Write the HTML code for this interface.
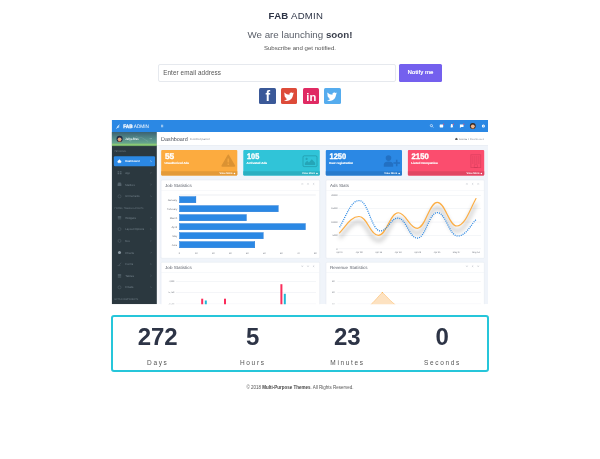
<!DOCTYPE html>
<html lang="en">
<head>
<meta charset="utf-8">
<title>Fab Admin - Coming Soon</title>
<style>
*{margin:0;padding:0;box-sizing:border-box}
html,body{width:600px;height:459px;overflow:hidden;background:#fff}
body{font-family:"Liberation Sans",sans-serif;color:#2d3446;position:relative}
.abs{position:absolute;white-space:nowrap}
.ctr{left:0;width:600px;text-align:center}
#logo{top:9.4px;left:-4.1px;font-size:9.6px;line-height:14px;letter-spacing:.27px;color:#2d3446}
#logo b{font-weight:700}
#h1{top:28px;font-size:9.75px;line-height:14px;color:#5a5f69}
#h1 b{color:#3a3f4c}
#sub{top:44px;font-size:6.1px;line-height:8px;color:#555}
#email{left:158px;top:63.5px;width:237.5px;height:18.5px;border:1px solid #e6e9ee;border-radius:2px;background:#fff;font-size:6.3px;letter-spacing:.1px;line-height:16.5px;padding-left:4.2px;color:#555}
#btn{left:399px;top:63.7px;width:43px;height:18.2px;border-radius:1.5px;background:#7460ee;color:#fff;font-size:5.8px;line-height:17.6px;text-align:center;font-weight:400;letter-spacing:.15px;text-shadow:.2px 0 0 #fff}
.soc{top:88.1px;width:16.5px;height:16.3px;border-radius:1.5px}
.soc svg{position:absolute;left:0;top:0;width:100%;height:100%}
#cd{left:111.2px;top:315.1px;width:377.6px;height:57.4px;border:2px solid #26c6da;border-radius:3px}
.num{top:321.9px;width:100px;text-align:center;font-size:24px;line-height:30px;font-weight:700;color:#2d3446}
.lab{top:359.2px;width:100px;text-align:center;font-size:6.5px;line-height:8px;letter-spacing:1.65px;color:#555;padding-left:1.65px}
#foot{top:383.5px;font-size:4.5px;line-height:7px;color:#555}
#foot b{font-weight:700;color:#444}
#dash{left:0;top:0;width:600px;height:459px}
</style>
</head>
<body>
<div id="logo" class="abs ctr"><b>FAB</b> ADMIN</div>
<div id="h1" class="abs ctr">We are launching <b>soon!</b></div>
<div id="sub" class="abs ctr">Subscribe and get notified.</div>
<div id="email" class="abs">Enter email address</div>
<div id="btn" class="abs">Notify me</div>

<div class="abs soc" style="left:259.3px;background:#3b5998"><svg viewBox="0 0 16 16"><text x="8.6" y="13.2" font-family="Liberation Sans, sans-serif" font-size="13.5" font-weight="700" fill="#fff" text-anchor="middle">f</text></svg></div>
<div class="abs soc" style="left:280.8px;background:#dd4b39"><svg viewBox="0 0 16 16"><path transform="translate(8 8.3) scale(1.14) translate(-8 -8)" d="M3.3 11.3c2.9 1.5 7.600 .2 8-4.900l.9-1-1 .2.700-1-1.100.4c-1.100-1-2.900-.2-2.600 1.500C6.500 6.400 5.100 5.700 4 4.500c-.5 1-.2 2 .6 2.600l-.8-.2c0 1 .7 1.700 1.600 2l-.8.100c.3.700.9 1.200 1.700 1.200-.8.700-1.900 1-3 1.100z" fill="#fff"/></svg></div>
<div class="abs soc" style="left:302.6px;background:#e02a63"><svg viewBox="0 0 16 16"><text x="8.100" y="12.300" font-family="Liberation Sans, sans-serif" font-size="11" font-weight="700" fill="#fff" text-anchor="middle">in</text></svg></div>
<div class="abs soc" style="left:324.3px;background:#55acee"><svg viewBox="0 0 16 16"><path transform="translate(8 8.3) scale(1.14) translate(-8 -8)" d="M3.3 11.3c2.9 1.5 7.600 .2 8-4.900l.9-1-1 .2.700-1-1.100.4c-1.100-1-2.900-.2-2.600 1.500C6.500 6.400 5.100 5.700 4 4.500c-.5 1-.2 2 .6 2.600l-.8-.2c0 1 .7 1.700 1.600 2l-.8.100c.3.700.9 1.200 1.700 1.200-.8.700-1.900 1-3 1.100z" fill="#fff"/></svg></div>

<svg id="dash" class="abs" viewBox="0 0 600 459" font-family="Liberation Sans, sans-serif">
<!--DASH-->
<defs>
<clipPath id="dc"><rect x="111.7" y="120" width="376.3" height="184.2"/></clipPath>
<linearGradient id="ug" x1="0" y1="0" x2="0" y2="1"><stop offset="0" stop-color="#3c6272"/><stop offset=".45" stop-color="#538a88"/><stop offset=".78" stop-color="#66a48c"/><stop offset=".9" stop-color="#90cd74"/><stop offset="1" stop-color="#5f9a60"/></linearGradient>
<filter id="sh" x="-10%" y="-40%" width="120%" height="200%"><feGaussianBlur stdDeviation="2"/></filter>
</defs>
<g clip-path="url(#dc)" text-rendering="geometricPrecision">
<rect x="111.7" y="120" width="376.3" height="184.2" fill="#f0f4fa"/>
<rect x="156.8" y="132" width="2.600" height="172.2" fill="#f9fafc"/>
<rect x="111.7" y="120" width="376.3" height="12" fill="#2b88e4"/>
<path d="M116.400 129c.4-2.400 1.800-4 3.900-4.700-1 .8-1.500 1.700-1.800 2.600l1.200-.3c-.6 1-1.500 1.400-2.500 1.400l-.4 1z" fill="#fff" opacity=".85"/>
<text x="123.200" y="128" font-size="5" fill="#fff" textLength="25.800" lengthAdjust="spacingAndGlyphs"><tspan font-weight="700" stroke="#fff" stroke-width=".25">FAB</tspan> ADMIN</text>
<path d="M161 125.200h2.200M161 126h2.200M161 126.800h2.200" stroke="#fff" stroke-width=".5"/>
<g fill="#fff">
<circle cx="431.400" cy="125.600" r="1.100" fill="none" stroke="#fff" stroke-width=".6"/><path d="M432.200 126.400l1.100 1.100" stroke="#fff" stroke-width=".6"/>
<rect x="439.700" y="124.600" width="3.500" height="2.800" rx=".4"/>
<path d="M450.200 127.300c.6-.5.600-1.200.6-1.900 0-.8.500-1.300 1-1.300s1 .5 1 1.300c0 .7 0 1.400.6 1.900z"/><circle cx="451.800" cy="127.700" r=".4"/>
<path d="M459.900 124.400h3.600v2.500h-2.300l-1.300 1.100z"/>
<circle cx="483.400" cy="126" r="1.500"/>
</g>
<circle cx="483.400" cy="126" r=".5" fill="#2b88e4"/>
<circle cx="443.600" cy="124.200" r=".6" fill="#fc4b6c"/><circle cx="453.400" cy="124.200" r=".6" fill="#fc4b6c"/><circle cx="463.800" cy="124.200" r=".6" fill="#fc4b6c"/>
<circle cx="472.800" cy="126" r="2.900" fill="#3b2a22"/><circle cx="472.800" cy="126.300" r="1.900" fill="#eeb58d"/><path d="M470.800 128a2.800 2.800 0 0 0 4 0c-1 .6-3 .6-4 0z" fill="#e07b2e"/>
<rect x="111.7" y="132" width="45.1" height="172.2" fill="#2b383f"/>
<rect x="111.7" y="132" width="45.1" height="14.100" fill="url(#ug)"/>
<path d="M130 141.500l6.500-5 2.500 1.600 2-1 7 4.400" fill="none" stroke="#fff" stroke-width=".4" opacity=".25"/>
<circle cx="119.600" cy="138.900" r="3.100" fill="#222c48"/><circle cx="119.600" cy="139.300" r="1.900" fill="#e8a57a"/><path d="M117.400 141a3.100 3.100 0 0 0 4.400 0c-1.200.6-3.200.6-4.400 0z" fill="#d8712b"/>
<text x="125.3" y="139.8" font-size="3.2" fill="#fff" font-weight="700" opacity="0.92" textLength="13.2" lengthAdjust="spacingAndGlyphs">Juliya Brus</text>
<path d="M150 138.300l.8.800.8-.8" stroke="#fff" stroke-width=".45" fill="none" opacity=".75"/>
<text x="114.4" y="152.3" font-size="2.4" fill="#6f7d86" textLength="11.9" lengthAdjust="spacingAndGlyphs">PERSONAL</text>
<rect x="113.800" y="156.200" width="41.300" height="10" rx="1.200" fill="#2b88e4"/>
<path d="M117.900 162.800v-1.300h-.5l2-1.900 2 1.900h-.5v1.300z" fill="#fff" stroke="#fff" stroke-width=".3" stroke-linejoin="round"/>
<text x="125.3" y="162.3" font-size="2.9" fill="#fff" font-weight="700" textLength="14.3" lengthAdjust="spacingAndGlyphs">Dashboard</text>
<path d="M150.500 160.500l.8.800-.8.800" stroke="#fff" stroke-width=".45" fill="none"/>
<path d="M117.600 171.3h1.600v1.200h-1.600zm2.300 0h1.600v1.200h-1.600zm-2.300 1.800h1.600v1.200h-1.600zm2.300 0h1.600v1.200h-1.600z" fill="#56646d"/>
<text x="125.2" y="173.8" font-size="2.9" fill="#73818a" textLength="4.9" lengthAdjust="spacingAndGlyphs">App</text>
<path d="M150.600 172.1l.7.700-.7.700" stroke="#66747d" stroke-width=".4" fill="none"/>
<path d="M117.600 183.6h3.800v2.400h-3.800zm.6-1h2.600v1h-2.600z" fill="#56646d"/>
<text x="125.2" y="185.5" font-size="2.9" fill="#73818a" textLength="9.6" lengthAdjust="spacingAndGlyphs">Mailbox</text>
<path d="M150.600 183.8l.7.700-.7.700" stroke="#66747d" stroke-width=".4" fill="none"/>
<circle cx="119.500" cy="196.3" r="1.500" fill="none" stroke="#56646d" stroke-width=".5"/>
<text x="125.2" y="197.3" font-size="2.9" fill="#73818a" textLength="14.5" lengthAdjust="spacingAndGlyphs">UI Elements</text>
<path d="M150.600 195.6l.7.700-.7.700" stroke="#66747d" stroke-width=".4" fill="none"/>
<path d="M117.800 215.9h3.400v.8h-3.400zm0 1.300h3.400v.8h-3.400zm0 1.300h3.400v.8h-3.400z" fill="#56646d"/>
<text x="125.2" y="218.6" font-size="2.9" fill="#73818a" textLength="10.7" lengthAdjust="spacingAndGlyphs">Widgets</text>
<path d="M150.600 216.9l.7.700-.7.700" stroke="#66747d" stroke-width=".4" fill="none"/>
<circle cx="119.500" cy="229.1" r="1.500" fill="none" stroke="#56646d" stroke-width=".5"/>
<text x="125.2" y="230.1" font-size="2.9" fill="#73818a" textLength="19.1" lengthAdjust="spacingAndGlyphs">Layout Options</text>
<path d="M150.600 228.4l.7.700-.7.700" stroke="#66747d" stroke-width=".4" fill="none"/>
<circle cx="119.500" cy="240.9" r="1.500" fill="none" stroke="#56646d" stroke-width=".5"/>
<text x="125.2" y="241.9" font-size="2.9" fill="#73818a" textLength="4.5" lengthAdjust="spacingAndGlyphs">Box</text>
<path d="M150.600 240.2l.7.700-.7.700" stroke="#66747d" stroke-width=".4" fill="none"/>
<circle cx="119.500" cy="252.6" r="1.500" fill="#8d9aa3"/>
<text x="125.2" y="253.6" font-size="2.9" fill="#73818a" textLength="8.8" lengthAdjust="spacingAndGlyphs">Charts</text>
<path d="M150.600 251.9l.7.700-.7.700" stroke="#66747d" stroke-width=".4" fill="none"/>
<path d="M117.600 265.6h2.800M119.3 264.9l1.800-2.200" stroke="#56646d" stroke-width=".55" fill="none"/>
<text x="125.2" y="265.1" font-size="2.9" fill="#73818a" textLength="8" lengthAdjust="spacingAndGlyphs">Forms</text>
<path d="M150.600 263.4l.7.700-.7.700" stroke="#66747d" stroke-width=".4" fill="none"/>
<path d="M117.800 274h3.400v.8h-3.400zm0 1.300h3.400v.8h-3.400zm0 1.300h3.400v.8h-3.400z" fill="#56646d"/>
<text x="125.2" y="276.7" font-size="2.9" fill="#73818a" textLength="8.8" lengthAdjust="spacingAndGlyphs">Tables</text>
<path d="M150.600 275l.7.700-.7.700" stroke="#66747d" stroke-width=".4" fill="none"/>
<circle cx="119.500" cy="287.3" r="1.500" fill="none" stroke="#56646d" stroke-width=".5"/>
<text x="125.2" y="288.3" font-size="2.9" fill="#73818a" textLength="8.3" lengthAdjust="spacingAndGlyphs">Emails</text>
<path d="M150.600 286.6l.7.700-.7.700" stroke="#66747d" stroke-width=".4" fill="none"/>
<text x="114.6" y="208.5" font-size="2.4" fill="#6f7d86" textLength="28.9" lengthAdjust="spacingAndGlyphs">FORMS, TABLE &amp; LAYOUTS</text>
<text x="114.6" y="299.5" font-size="2.4" fill="#6f7d86" textLength="23.6" lengthAdjust="spacingAndGlyphs">EXTRA COMPONENTS</text>
<rect x="156.8" y="132" width="331.2" height="13.300" fill="#fff"/>
<rect x="156.8" y="145.300" width="331.2" height=".5" fill="#e2e6ee"/>
<text x="161.1" y="140.6" font-size="5.6" fill="#4d525c" textLength="26.6" lengthAdjust="spacingAndGlyphs">Dashboard</text>
<text x="190" y="140.3" font-size="2.8" fill="#7c818b" textLength="19.6" lengthAdjust="spacingAndGlyphs">Control panel</text>
<path d="M455.200 139.900v-1.100l1.200-1 1.200 1v1.100z" fill="#555"/>
<text x="459.300" y="139.800" font-size="2.500" fill="#6a6f78" textLength="24.800" lengthAdjust="spacingAndGlyphs">Home  /  <tspan fill="#9a9fa8">Dashboard</tspan></text>
<rect x="161.2" y="150" width="76.1" height="25.600" rx="1" fill="#fcab3f"/>
<path d="M161.2 171.200h76.1v3.400a1 1 0 0 1-1 1h-74.1a1 1 0 0 1-1-1z" fill="#e39a39"/>
<text x="164.9" y="159" font-size="8" fill="#fff" font-weight="700" textLength="9.3" lengthAdjust="spacingAndGlyphs" stroke="#fff" stroke-width=".35">55</text>
<text x="164.5" y="164.4" font-size="2.9" fill="#fff" font-weight="700" textLength="24.4" lengthAdjust="spacingAndGlyphs" stroke="#fff" stroke-width=".12">Unauthorized Ads</text>
<text x="219.6" y="174.3" font-size="2.6" fill="#fff" font-weight="700" textLength="12.9" lengthAdjust="spacingAndGlyphs">View More</text>
<circle cx="234.45" cy="173.500" r=".800" fill="#fff"/>
<g opacity=".2"><path d="M228.3 155.300l6.100 10.600h-12.200z" fill="#5a3200" stroke="#5a3200" stroke-width="1.600" stroke-linejoin="round"/></g>
<rect x="227.5" y="158.400" width="1.600" height="4" rx=".3" fill="#f3a53e"/><rect x="227.5" y="163.400" width="1.600" height="1.500" rx=".3" fill="#f3a53e"/>
<rect x="243.3" y="150" width="76.5" height="25.600" rx="1" fill="#30c4d8"/>
<path d="M243.3 171.200h76.5v3.400a1 1 0 0 1-1 1h-74.5a1 1 0 0 1-1-1z" fill="#2aafc1"/>
<text x="247" y="159" font-size="8" fill="#fff" font-weight="700" textLength="12.2" lengthAdjust="spacingAndGlyphs" stroke="#fff" stroke-width=".35">105</text>
<text x="246.6" y="164.4" font-size="2.9" fill="#fff" font-weight="700" textLength="20.5" lengthAdjust="spacingAndGlyphs" stroke="#fff" stroke-width=".12">Activated Ads</text>
<text x="302.1" y="174.3" font-size="2.6" fill="#fff" font-weight="700" textLength="12.9" lengthAdjust="spacingAndGlyphs">View More</text>
<circle cx="316.95" cy="173.500" r=".800" fill="#fff"/>
<rect x="303" y="155.800" width="14" height="10.800" rx="1.200" fill="none" stroke="#0a5560" stroke-opacity=".28" stroke-width="1"/>
<path d="M304.9 164.900v-1.800l2.300-2.300 1.700 1.700 2.900-3.300 3.300 3.600v2.100z" fill="#0a5560" opacity=".28"/><circle cx="306.6" cy="158.900" r="1.100" fill="#0a5560" opacity=".28"/>
<rect x="325.8" y="150" width="76.2" height="25.600" rx="1" fill="#2b88e4"/>
<path d="M325.8 171.200h76.2v3.400a1 1 0 0 1-1 1h-74.2a1 1 0 0 1-1-1z" fill="#277acc"/>
<text x="329.5" y="159" font-size="8" fill="#fff" font-weight="700" textLength="16.6" lengthAdjust="spacingAndGlyphs" stroke="#fff" stroke-width=".35">1250</text>
<text x="329.1" y="164.4" font-size="2.9" fill="#fff" font-weight="700" textLength="24.1" lengthAdjust="spacingAndGlyphs" stroke="#fff" stroke-width=".12">User registration</text>
<text x="384.3" y="174.3" font-size="2.6" fill="#fff" font-weight="700" textLength="12.9" lengthAdjust="spacingAndGlyphs">View More</text>
<circle cx="399.15" cy="173.500" r=".800" fill="#fff"/>
<g fill="#0a2f66" opacity=".26"><circle cx="388.5" cy="158.100" r="2.800"/><path d="M383.8 166.700v-2.300c0-2 2-3 4.700-3s4.700 1 4.700 3v2.300z"/><rect x="393.4" y="162.200" width="6.600" height="1.600"/><rect x="395.9" y="159.700" width="1.600" height="6.600"/></g>
<rect x="407.9" y="150" width="76.3" height="25.600" rx="1" fill="#fb4d6e"/>
<path d="M407.9 171.200h76.3v3.400a1 1 0 0 1-1 1h-74.3a1 1 0 0 1-1-1z" fill="#e14563"/>
<text x="411.6" y="159" font-size="8" fill="#fff" font-weight="700" textLength="17.1" lengthAdjust="spacingAndGlyphs" stroke="#fff" stroke-width=".35">2150</text>
<text x="411.2" y="164.4" font-size="2.9" fill="#fff" font-weight="700" textLength="26.6" lengthAdjust="spacingAndGlyphs" stroke="#fff" stroke-width=".12">Listed Companies</text>
<text x="466.5" y="174.3" font-size="2.6" fill="#fff" font-weight="700" textLength="12.9" lengthAdjust="spacingAndGlyphs">View More</text>
<circle cx="481.35" cy="173.500" r=".800" fill="#fff"/>
<g fill="none" stroke="#6b0f22" stroke-opacity=".2"><rect x="470.9" y="154.800" width="9.800" height="12.800" stroke-width=".8"/><path d="M472.1 157h7.400M472.1 159h7.400M472.1 161h7.400M472.1 163h7.400" stroke-width="1.100" stroke-dasharray="1.400 .6"/><rect x="474.2" y="164.800" width="3.200" height="2.600" stroke-width=".6"/></g>
<rect x="161.1" y="180" width="158.6" height="78.3" rx="1" fill="#fff" stroke="#e3e7ef" stroke-width=".5"/>
<text x="165.1" y="186.8" font-size="4.4" fill="#5d626c" textLength="26.8" lengthAdjust="spacingAndGlyphs">Job Statistics</text>
<rect x="161.1" y="190.1" width="158.6" height=".4" fill="#eceff4"/>
<path d="M301.65 183.3l1.300 1.300m0-1.300l-1.300 1.300" stroke="#b3b8c1" stroke-width=".45" fill="none"/>
<path d="M307.35 183.3l1.300 1.300m0-1.300l-1.300 1.300" stroke="#b3b8c1" stroke-width=".45" fill="none"/>
<path d="M312.95 183.3l1.300 1.300m0-1.300l-1.300 1.300" stroke="#b3b8c1" stroke-width=".45" fill="none"/>
<rect x="326" y="180" width="158.3" height="78.3" rx="1" fill="#fff" stroke="#e3e7ef" stroke-width=".5"/>
<text x="330" y="186.8" font-size="4.4" fill="#5d626c" textLength="19" lengthAdjust="spacingAndGlyphs">Ads Stats</text>
<rect x="326" y="190.1" width="158.3" height=".4" fill="#eceff4"/>
<path d="M466.25 183.3l1.300 1.300m0-1.300l-1.300 1.300" stroke="#b3b8c1" stroke-width=".45" fill="none"/>
<path d="M471.95 183.3l1.300 1.300m0-1.300l-1.300 1.300" stroke="#b3b8c1" stroke-width=".45" fill="none"/>
<path d="M477.55 183.3l1.300 1.300m0-1.300l-1.300 1.300" stroke="#b3b8c1" stroke-width=".45" fill="none"/>
<rect x="161.1" y="262.3" width="158.6" height="49.7" rx="1" fill="#fff" stroke="#e3e7ef" stroke-width=".5"/>
<text x="165.1" y="269.1" font-size="4.4" fill="#5d626c" textLength="26.8" lengthAdjust="spacingAndGlyphs">Job Statistics</text>
<rect x="161.1" y="272.4" width="158.6" height=".4" fill="#eceff4"/>
<path d="M301.65 265.6l1.300 1.300m0-1.300l-1.300 1.300" stroke="#b3b8c1" stroke-width=".45" fill="none"/>
<path d="M307.35 265.6l1.300 1.300m0-1.300l-1.300 1.300" stroke="#b3b8c1" stroke-width=".45" fill="none"/>
<path d="M312.95 265.6l1.300 1.300m0-1.300l-1.300 1.300" stroke="#b3b8c1" stroke-width=".45" fill="none"/>
<rect x="326" y="262.3" width="158.3" height="49.7" rx="1" fill="#fff" stroke="#e3e7ef" stroke-width=".5"/>
<text x="330" y="269.1" font-size="4.4" fill="#5d626c" textLength="37.5" lengthAdjust="spacingAndGlyphs">Revenue Statistics</text>
<rect x="326" y="272.4" width="158.3" height=".4" fill="#eceff4"/>
<path d="M466.25 265.6l1.300 1.300m0-1.300l-1.300 1.300" stroke="#b3b8c1" stroke-width=".45" fill="none"/>
<path d="M471.95 265.6l1.300 1.300m0-1.300l-1.300 1.300" stroke="#b3b8c1" stroke-width=".45" fill="none"/>
<path d="M477.55 265.6l1.300 1.300m0-1.300l-1.300 1.300" stroke="#b3b8c1" stroke-width=".45" fill="none"/>
<rect x="179.300" y="194.800" width="136.500" height=".4" fill="#d3d7de"/>
<rect x="179.500" y="196.6" width="16.4" height="6.200" fill="#2b88e4" stroke="#1a73d4" stroke-width=".4"/>
<text x="167.7" y="200.6" font-size="2.4" fill="#6c717b" textLength="9.5" lengthAdjust="spacingAndGlyphs">January</text>
<rect x="179.500" y="205.6" width="98.7" height="6.200" fill="#2b88e4" stroke="#1a73d4" stroke-width=".4"/>
<text x="167" y="209.6" font-size="2.4" fill="#6c717b" textLength="10.2" lengthAdjust="spacingAndGlyphs">February</text>
<rect x="179.500" y="214.6" width="66.9" height="6.200" fill="#2b88e4" stroke="#1a73d4" stroke-width=".4"/>
<text x="169.7" y="218.6" font-size="2.4" fill="#6c717b" textLength="7.5" lengthAdjust="spacingAndGlyphs">March</text>
<rect x="179.500" y="223.6" width="125.9" height="6.200" fill="#2b88e4" stroke="#1a73d4" stroke-width=".4"/>
<text x="171.4" y="227.6" font-size="2.4" fill="#6c717b" textLength="5.8" lengthAdjust="spacingAndGlyphs">April</text>
<rect x="179.500" y="232.6" width="83.7" height="6.200" fill="#2b88e4" stroke="#1a73d4" stroke-width=".4"/>
<text x="172.6" y="236.6" font-size="2.4" fill="#6c717b" textLength="4.6" lengthAdjust="spacingAndGlyphs">May</text>
<rect x="179.500" y="241.6" width="75.3" height="6.200" fill="#2b88e4" stroke="#1a73d4" stroke-width=".4"/>
<text x="171.6" y="245.6" font-size="2.4" fill="#6c717b" textLength="5.6" lengthAdjust="spacingAndGlyphs">June</text>
<text x="179.3" y="253.7" font-size="2.3" fill="#6c717b" text-anchor="middle">0</text>
<text x="196.3" y="253.7" font-size="2.3" fill="#6c717b" text-anchor="middle">10</text>
<text x="213.3" y="253.7" font-size="2.3" fill="#6c717b" text-anchor="middle">20</text>
<text x="230.3" y="253.7" font-size="2.3" fill="#6c717b" text-anchor="middle">30</text>
<text x="247.3" y="253.7" font-size="2.3" fill="#6c717b" text-anchor="middle">40</text>
<text x="264.3" y="253.7" font-size="2.3" fill="#6c717b" text-anchor="middle">50</text>
<text x="281.3" y="253.7" font-size="2.3" fill="#6c717b" text-anchor="middle">60</text>
<text x="298.3" y="253.7" font-size="2.3" fill="#6c717b" text-anchor="middle">70</text>
<text x="315.3" y="253.7" font-size="2.3" fill="#6c717b" text-anchor="middle">80</text>
<rect x="338.500" y="195" width="142.500" height=".4" fill="#e4e7ed"/>
<text x="337.6" y="196" font-size="2.3" fill="#6c717b" text-anchor="end">20000</text>
<rect x="338.500" y="208.42" width="142.500" height=".4" fill="#e4e7ed"/>
<text x="337.6" y="209.42" font-size="2.3" fill="#6c717b" text-anchor="end">15000</text>
<rect x="338.500" y="221.84" width="142.500" height=".4" fill="#e4e7ed"/>
<text x="337.6" y="222.84" font-size="2.3" fill="#6c717b" text-anchor="end">10000</text>
<rect x="338.500" y="235.26" width="142.500" height=".4" fill="#e4e7ed"/>
<text x="337.6" y="236.26" font-size="2.3" fill="#6c717b" text-anchor="end">5000</text>
<rect x="338.500" y="248.68" width="142.500" height=".4" fill="#e4e7ed"/>
<text x="337.6" y="249.68" font-size="2.3" fill="#6c717b" text-anchor="end">0</text>
<text x="339.6" y="253.3" font-size="2.3" fill="#6c717b" text-anchor="middle">Apr 07</text>
<text x="359.09" y="253.3" font-size="2.3" fill="#6c717b" text-anchor="middle">Apr 09</text>
<text x="378.58" y="253.3" font-size="2.3" fill="#6c717b" text-anchor="middle">Apr 14</text>
<text x="398.07" y="253.3" font-size="2.3" fill="#6c717b" text-anchor="middle">Apr 23</text>
<text x="417.56" y="253.3" font-size="2.3" fill="#6c717b" text-anchor="middle">Apr 28</text>
<text x="437.05" y="253.3" font-size="2.3" fill="#6c717b" text-anchor="middle">Apr 21</text>
<text x="456.54" y="253.3" font-size="2.3" fill="#6c717b" text-anchor="middle">May 07</text>
<text x="476.03" y="253.3" font-size="2.3" fill="#6c717b" text-anchor="middle">May 14</text>
<path d="M339.6 232.8C346.1 226.0 350.9 216.5 359.0 216.5C367.1 216.5 370.3 235.4 378.4 235.4C386.7 235.4 389.9 212.8 398.2 212.8C406.2 212.8 409.3 228.3 417.3 228.3C425.7 228.3 428.9 202.4 437.3 202.4C445.5 202.4 448.7 226.0 456.9 226.0C464.9 226.0 469.6 210.1 476.0 198.5" transform="translate(0,5.200)" fill="none" stroke="#000" stroke-opacity=".2" stroke-width="3.200" filter="url(#sh)"/>
<path d="M339.6 232.8C346.1 226.0 350.9 216.5 359.0 216.5C367.1 216.5 370.3 235.4 378.4 235.4C386.7 235.4 389.9 212.8 398.2 212.8C406.2 212.8 409.3 228.3 417.3 228.3C425.7 228.3 428.9 202.4 437.3 202.4C445.5 202.4 448.7 226.0 456.9 226.0C464.9 226.0 469.6 210.1 476.0 198.5" fill="none" stroke="#fcad43" stroke-width="1.150" stroke-linecap="round"/>
<path d="M339.6 227.3C346.2 216.0 351.0 200.5 359.2 200.5C368.1 200.5 371.5 230.9 380.4 230.9C387.8 230.9 390.6 218.1 398.0 218.1C406.1 218.1 409.2 238.1 417.3 238.1C425.7 238.1 428.9 212.6 437.3 212.6C445.9 212.6 449.2 236.0 457.8 236.0C465.4 236.0 469.9 226.4 476.0 219.5" fill="none" stroke="#2b88e4" stroke-width="1.250" stroke-dasharray="1.050 1.050"/>
<rect x="176" y="281" width="140" height=".4" fill="#e4e7ed"/>
<text x="174.3" y="282" font-size="2.3" fill="#6c717b" text-anchor="end">7,000</text>
<rect x="176" y="292.4" width="140" height=".4" fill="#e4e7ed"/>
<text x="174.3" y="293.4" font-size="2.3" fill="#6c717b" text-anchor="end">5,750</text>
<rect x="176" y="303.8" width="140" height=".4" fill="#e4e7ed"/>
<text x="174.3" y="304.8" font-size="2.3" fill="#6c717b" text-anchor="end">4,500</text>
<rect x="201.2" y="298.7" width="2" height="11.3" fill="#fb2d5b"/>
<rect x="204.8" y="300.5" width="2" height="9.5" fill="#1fb9d6"/>
<rect x="224" y="298.7" width="2" height="11.3" fill="#fb2d5b"/>
<rect x="280.4" y="284.2" width="2" height="25.8" fill="#fb2d5b"/>
<rect x="283.8" y="293.8" width="2" height="16.2" fill="#1fb9d6"/>
<rect x="337.300" y="281" width="143.500" height=".4" fill="#e4e7ed"/>
<text x="334.6" y="282" font-size="2.3" fill="#6c717b" text-anchor="end">30</text>
<rect x="337.300" y="292.4" width="143.500" height=".4" fill="#e4e7ed"/>
<text x="334.6" y="293.4" font-size="2.3" fill="#6c717b" text-anchor="end">20</text>
<rect x="337.300" y="303.8" width="143.500" height=".4" fill="#e4e7ed"/>
<text x="334.6" y="304.8" font-size="2.3" fill="#6c717b" text-anchor="end">10</text>
<path d="M368.500 307C375 301 379 295.500 382.300 292.500C386 295.500 390 301 398 307z" fill="#fde2c1" stroke="#fcb55a" stroke-width=".5"/>
<circle cx="382.300" cy="292.500" r=".6" fill="#fcab3f"/>
</g>
</svg>

<div id="cd" class="abs"></div>
<div class="abs num" style="left:107.7px">272</div>
<div class="abs num" style="left:202.8px">5</div>
<div class="abs num" style="left:297.3px">23</div>
<div class="abs num" style="left:392.3px">0</div>
<div class="abs lab" style="left:107px">Days</div>
<div class="abs lab" style="left:202px">Hours</div>
<div class="abs lab" style="left:296.7px">Minutes</div>
<div class="abs lab" style="left:391.7px">Seconds</div>
<div id="foot" class="abs ctr">© 2018 <b>Multi-Purpose Themes</b>. All Rights Reserved.</div>
</body>
</html>
